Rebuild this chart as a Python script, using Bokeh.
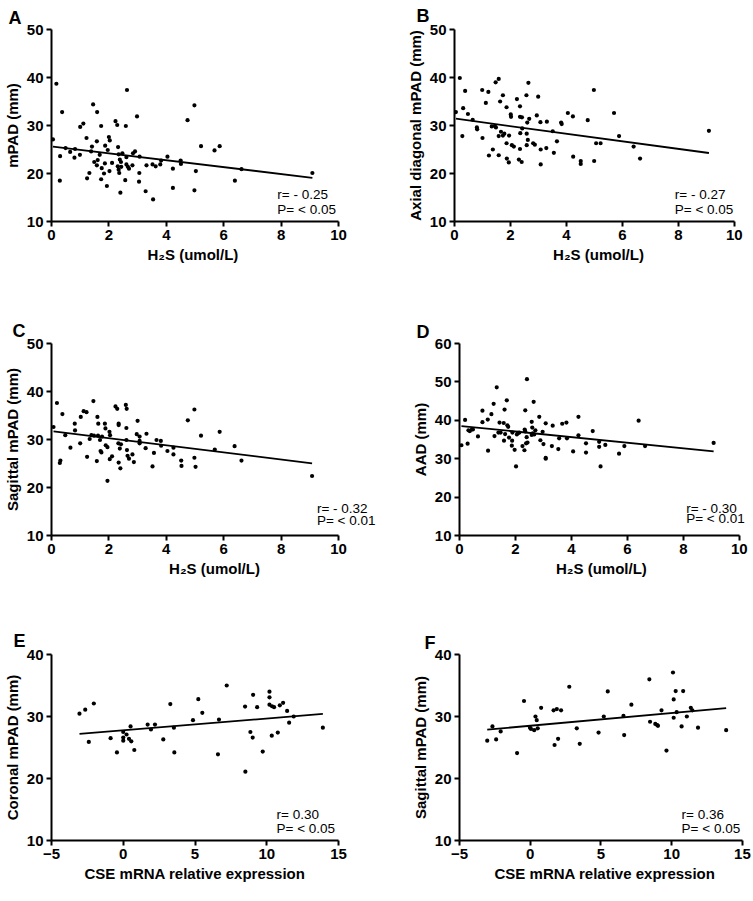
from bokeh.plotting import figure
from bokeh.layouts import column, row
from bokeh.models import Range1d, Label, FixedTicker
from bokeh.embed import file_html
from bokeh.resources import INLINE

FONT = "Liberation Sans"

# ---------------- data ----------------
a_x = [0.05, 0.17, 0.29, 0.30, 0.37, 0.49, 0.65, 0.80, 0.82, 0.99,
       1.00, 1.11, 1.22, 1.24, 1.32, 1.38, 1.41, 1.45, 1.49, 1.58,
       1.59, 1.58, 1.61, 1.68, 1.73, 1.73, 1.75, 1.83, 1.87, 1.86,
       1.93, 1.96, 2.00, 2.03, 2.02, 2.11, 2.23, 2.29, 2.32, 2.34,
       2.31, 2.34, 2.36, 2.38, 2.40, 2.42, 2.43, 2.47, 2.57, 2.59,
       2.61, 2.61, 2.63, 2.66, 2.70, 2.82, 2.84, 2.91, 2.98, 3.05,
       3.06, 3.07, 3.28, 3.31, 3.52, 3.54, 3.63, 3.79, 3.82, 4.04,
       4.23, 4.23, 4.50, 4.51, 4.74, 4.98, 4.98, 5.03, 5.21, 5.68,
       5.86, 6.39, 6.62, 9.09]
a_y = [27.1, 38.7, 18.5, 23.6, 32.8, 25.3, 24.5, 23.3, 25.1, 23.9,
       29.7, 30.4, 27.4, 19.0, 20.1, 24.6, 25.6, 34.4, 22.4, 26.7,
       32.8, 21.7, 22.8, 23.9, 29.9, 18.8, 21.1, 20.0, 25.8, 22.1,
       17.4, 24.9, 27.6, 26.9, 20.5, 22.2, 30.9, 30.1, 25.5, 24.0,
       21.5, 20.8, 20.1, 22.9, 16.0, 22.4, 21.4, 24.2, 18.6, 29.9,
       23.4, 21.9, 37.4, 21.4, 21.0, 21.7, 24.2, 24.6, 31.9, 18.3,
       20.1, 23.5, 16.3, 21.7, 21.9, 14.6, 21.5, 21.9, 22.7, 23.5,
       21.0, 17.0, 22.7, 22.0, 31.1, 34.2, 16.5, 20.5, 25.7, 24.8,
       25.7, 18.5, 20.9, 20.1]

b_x = [0.05, 0.19, 0.28, 0.31, 0.38, 0.48, 0.65, 0.80, 0.81, 0.99,
       1.00, 1.12, 1.21, 1.23, 1.33, 1.37, 1.44, 1.47, 1.48, 1.58,
       1.58, 1.58, 1.63, 1.66, 1.73, 1.73, 1.78, 1.86, 1.86, 1.87,
       1.94, 1.95, 2.01, 2.02, 2.05, 2.12, 2.23, 2.30, 2.34, 2.34,
       2.34, 2.35, 2.40, 2.41, 2.42, 2.57, 2.58, 2.58, 2.60, 2.62,
       2.64, 2.67, 2.81, 2.87, 2.94, 2.99, 3.07, 3.08, 3.08, 3.28,
       3.30, 3.51, 3.55, 3.66, 3.81, 3.83, 4.05, 4.23, 4.24, 4.51,
       4.51, 4.76, 4.98, 4.99, 5.06, 5.22, 5.70, 5.88, 6.40, 6.63, 9.09]
b_y = [32.8, 39.9, 27.8, 33.6, 37.2, 32.4, 31.2, 29.6, 29.2, 37.4,
       27.4, 34.7, 37.0, 23.75, 29.8, 25.0, 29.9, 39.0, 29.6, 39.7,
       23.8, 27.8, 35.0, 28.7, 36.3, 27.9, 28.3, 33.8, 26.3, 23.1,
       22.3, 27.9, 32.3, 31.8, 25.9, 25.6, 35.5, 22.9, 34.0, 31.8,
       25.1, 28.4, 22.4, 31.7, 29.4, 36.3, 28.3, 25.9, 30.6, 27.0,
       38.9, 31.4, 26.3, 26.0, 32.1, 36.0, 30.7, 25.0, 21.9, 25.3,
       30.8, 28.8, 24.3, 26.7, 30.6, 30.3, 32.6, 31.9, 23.5, 22.6,
       22.0, 31.1, 37.4, 22.6, 26.3, 26.3, 32.6, 27.8, 25.6, 23.1, 28.9]

c_x = [0.07, 0.19, 0.29, 0.31, 0.38, 0.48, 0.66, 0.81, 0.82, 1.00,
       1.02, 1.12, 1.22, 1.24, 1.33, 1.39, 1.46, 1.48, 1.58, 1.60,
       1.63, 1.62, 1.69, 1.71, 1.74, 1.76, 1.86, 1.88, 1.89, 1.95,
       1.95, 2.02, 2.03, 2.04, 2.11, 2.23, 2.29, 2.34, 2.33, 2.34,
       2.34, 2.38, 2.40, 2.42, 2.59, 2.61, 2.62, 2.61, 2.63, 2.65,
       2.70, 2.82, 2.87, 2.97, 3.00, 3.07, 3.07, 3.07, 3.28, 3.31,
       3.52, 3.57, 3.66, 3.81, 3.82, 4.04, 4.25, 4.25, 4.52, 4.53,
       4.75, 4.98, 4.98, 5.02, 5.21, 5.69, 5.86, 6.38, 6.62, 9.08]
c_y = [32.6, 37.6, 25.1, 25.6, 35.3, 30.9, 28.3, 33.3, 31.9, 29.2,
       34.7, 35.9, 35.7, 26.4, 30.1, 30.9, 38.0, 30.8, 25.5, 34.7,
       33.3, 30.8, 29.9, 27.6, 27.3, 30.6, 33.3, 32.3, 28.8, 28.4,
       21.4, 31.6, 25.9, 30.9, 26.5, 36.9, 36.4, 33.3, 29.2, 25.2,
       33.0, 28.1, 24.0, 29.0, 37.2, 32.4, 36.4, 29.9, 27.8, 26.6,
       26.0, 26.9, 25.3, 31.1, 33.9, 30.6, 29.2, 29.7, 28.2, 31.2,
       24.4, 27.2, 29.9, 29.7, 28.7, 27.6, 26.9, 28.3, 25.6, 24.5,
       34.0, 36.25, 26.2, 24.3, 30.8, 27.9, 31.6, 28.6, 25.6, 22.4]

d_x = [0.07, 0.20, 0.29, 0.32, 0.37, 0.44, 0.48, 0.66, 0.82, 0.82,
       1.01, 1.02, 1.14, 1.22, 1.25, 1.33, 1.39, 1.43, 1.47, 1.58,
       1.59, 1.61, 1.63, 1.69, 1.71, 1.74, 1.77, 1.87, 1.88, 1.89,
       1.97, 2.02, 2.05, 2.09, 2.14, 2.25, 2.32, 2.33, 2.35, 2.35,
       2.38, 2.40, 2.41, 2.43, 2.58, 2.58, 2.60, 2.62, 2.65, 2.67,
       2.71, 2.85, 2.89, 2.97, 3.00, 3.08, 3.08, 3.08, 3.30, 3.33,
       3.53, 3.56, 3.67, 3.82, 3.84, 4.06, 4.25, 4.25, 4.52, 4.52,
       4.76, 4.99, 4.99, 5.04, 5.21, 5.70, 5.89, 6.40, 6.63, 9.08]
d_y = [33.5, 40.1, 33.9, 37.4, 37.2, 37.6, 37.6, 35.8, 42.5, 39.5,
       40.2, 32.1, 41.6, 44.3, 35.9, 48.6, 36.8, 39.4, 36.8, 39.3,
       34.7, 42.8, 36.4, 45.2, 38.7, 38.3, 35.5, 33.4, 34.7, 36.8,
       32.3, 28.0, 36.3, 36.7, 36.8, 33.3, 32.2, 37.6, 42.6, 37.1,
       34.0, 35.6, 50.7, 34.2, 36.2, 39.6, 38.1, 36.6, 44.8, 36.3,
       37.4, 40.9, 34.8, 37.0, 33.8, 39.2, 30.2, 30.0, 33.3, 38.6,
       32.5, 35.3, 39.1, 39.4, 35.3, 31.9, 40.9, 36.1, 34.0, 31.6,
       37.2, 34.4, 33.1, 28.0, 33.6, 31.3, 33.3, 39.9, 33.3, 34.1]

e_x = [-3.05, -2.65, -2.40, -2.05, -0.88, -0.44, 0.0, 0.0, 0.0, 0.23,
       0.40, 0.51, 0.56, 0.77, 1.70, 1.93, 2.21, 2.79, 3.28, 3.53,
       3.56, 4.86, 5.23, 5.51, 6.60, 6.67, 7.21, 8.49, 8.51, 8.86,
       9.05, 9.02, 9.33, 9.72, 10.19, 10.19, 10.19, 10.37, 10.35, 10.51,
       10.77, 10.91, 11.14, 11.42, 11.56, 11.88, 13.91]
e_y = [30.45, 31.1, 25.9, 32.1, 26.5, 24.2, 27.5, 26.6, 26.1, 27.1,
       26.4, 28.4, 26.0, 24.6, 28.7, 27.9, 28.7, 26.3, 32.0, 28.2,
       24.2, 29.4, 32.8, 30.6, 23.9, 29.5, 35.0, 31.6, 21.1, 27.5,
       33.5, 26.6, 31.5, 24.35, 34.0, 33.1, 31.9, 31.65, 26.9, 31.5,
       27.4, 31.8, 32.2, 30.9, 29.0, 30.0, 28.2]

f_x = [-3.04, -2.67, -2.41, -2.09, -0.93, -0.44, -0.02, 0.05, 0.28, 0.37,
       0.46, 0.53, 0.77, 1.65, 1.72, 1.88, 1.97, 2.18, 2.76, 3.29,
       3.50, 4.83, 5.20, 5.48, 6.59, 6.64, 7.15, 8.42, 8.47, 8.84,
       8.98, 9.03, 9.28, 9.63, 10.09, 10.14, 10.14, 10.28, 10.35, 10.70,
       10.81, 11.07, 11.35, 11.46, 11.86, 13.85]
f_y = [26.1, 28.4, 26.3, 27.6, 24.1, 32.5, 28.2, 28.0, 27.8, 30.0,
       29.4, 28.1, 31.4, 31.0, 25.4, 31.2, 26.4, 31.0, 34.8, 28.1,
       25.6, 27.4, 30.0, 34.05, 30.1, 27.0, 31.9, 36.0, 29.15, 28.8,
       28.6, 28.5, 31.0, 24.5, 37.1, 32.75, 29.8, 34.1, 30.7, 28.4,
       34.1, 30.0, 31.4, 31.0, 28.2, 27.8]

# fitted lines (intercept, slope)
fit_a = (25.65, -0.72)
fit_b = (31.45, -0.79)
fit_c = (31.75, -0.74)
fit_d = (38.55, -0.73)
fit_e = (27.77, 0.19)
fit_f = (28.51, 0.204)

stats_a = ("r= - 0.25", "P= < 0.05")
stats_b = ("r= - 0.27", "P= < 0.05")
stats_c = ("r= - 0.32", "P= < 0.01")
stats_d = ("r= - 0.30", "P= < 0.01")
stats_e = ("r= 0.30", "P= < 0.05")
stats_f = ("r= 0.36", "P= < 0.05")

h2s_ticks = [0, 2, 4, 6, 8, 10]
cse_ticks = [-5, 0, 5, 10, 15]
y_ticks_50 = [10, 20, 30, 40, 50]
y_ticks_60 = [10, 20, 30, 40, 50, 60]
y_ticks_40 = [10, 20, 30, 40]


def panel(x, y, fit, stats, xr, xbounds, yr, xticks, yticks, xlabel, ylabel,
          letter, fw, fh, bl, br, bt, bb, letter_dx, letter_standoff,
          ann_x, ann_r_y, ann_p_y):
    p = figure(frame_width=fw, frame_height=fh, output_backend="svg",
               toolbar_location=None, x_range=Range1d(*xr), y_range=Range1d(*yr),
               min_border_left=bl, min_border_right=br,
               min_border_top=bt, min_border_bottom=bb, title=letter)
    p.outline_line_color = None
    p.xgrid.grid_line_color = None
    p.ygrid.grid_line_color = None
    p.background_fill_color = "white"
    p.border_fill_color = "white"

    p.title.align = "left"
    p.title.offset = letter_dx
    p.title.standoff = letter_standoff
    p.title.text_font = FONT
    p.title.text_font_size = "18px"
    p.title.text_font_style = "bold"
    p.title.text_color = "black"

    for ax in (p.xaxis[0], p.yaxis[0]):
        ax.axis_line_width = 2
        ax.axis_line_color = "black"
        ax.major_tick_line_width = 2
        ax.major_tick_line_color = "black"
        ax.major_tick_in = 0
        ax.major_tick_out = 5
        ax.minor_tick_line_color = None
        ax.major_label_text_font = FONT
        ax.major_label_text_font_style = "bold"
        ax.major_label_text_font_size = "15px"
        ax.major_label_text_color = "black"
        ax.axis_label_text_font = FONT
        ax.axis_label_text_font_style = "bold"
        ax.axis_label_text_font_size = "15px"
        ax.axis_label_text_color = "black"
        ax.major_label_standoff = 3
        ax.axis_label_standoff = 3
    p.xaxis.ticker = FixedTicker(ticks=xticks)
    p.yaxis.ticker = FixedTicker(ticks=yticks)
    p.xaxis.bounds = xbounds
    p.xaxis.axis_label = xlabel
    p.yaxis.axis_label = ylabel

    p.scatter(x, y, size=4.2, fill_color="black", line_color=None)

    b0, b1 = fit
    lx = [min(x), max(x)]
    ly = [b0 + b1 * v for v in lx]
    p.line(lx, ly, line_width=1.8, line_color="black")

    for txt, yy in ((stats[0], ann_r_y), (stats[1], ann_p_y)):
        p.add_layout(Label(x=ann_x, y=yy, text=txt, text_font=FONT,
                           text_font_size="13.5px", text_color="black",
                           text_baseline="middle", text_align="left"))
    return p


pa = panel(a_x, a_y, fit_a, stats_a, (0, 10), (0, 10), (10, 50), h2s_ticks, y_ticks_50,
           "H\u2082S  (umol/L)", "mPAD (mm)", "A",
           287, 192, 43, 34, 25, 58, -43, 4, 7.87, 15.7, 12.6)
pb = panel(b_x, b_y, fit_b, stats_b, (0, 10.29), (0, 10), (10, 50), h2s_ticks, y_ticks_50,
           "H\u2082S (umol/L)", "Axial diagonal mPAD (mm)", "B",
           288, 192, 82, 1, 25, 58, -38, 7, 7.87, 15.7, 12.5)
pc = panel(c_x, c_y, fit_c, stats_c, (0, 11.36), (0, 10), (10, 50), h2s_ticks, y_ticks_50,
           "H\u2082S (umol/L)", "Sagittal mPAD (mm)", "C",
           326, 192, 38, 0, 60, 56, -39, 5, 9.25, 15.7, 13.1)
pd = panel(d_x, d_y, fit_d, stats_d, (0, 10.29), (0, 10), (10, 60), h2s_ticks, y_ticks_60,
           "H\u2082S  (umol/L)", "AAD (mm)", "D",
           288, 192, 82, 1, 64, 52, -43, 4, 8.1, 17.1, 14.4)
pe = panel(e_x, e_y, fit_e, stats_e, (-5, 15), (-5, 15), (10, 40), cse_ticks, y_ticks_40,
           "CSE mRNA relative expression", "Coronal mPAD (mm)", "E",
           287, 186, 35, 42, 67, 45, -38, 8, 10.68, 14.2, 12.0)
pf = panel(f_x, f_y, fit_f, stats_f, (-5, 15.57), (-5, 15), (10, 40), cse_ticks, y_ticks_40,
           "CSE mRNA relative expression", "Sagittal mPAD (mm)", "F",
           291, 186, 79, 1, 67, 45, -35, 4, 10.7, 14.2, 12.0)

layout = column(row(pa, pb), row(pc, pd), row(pe, pf))

with open("out.html", "w") as fh:
    fh.write(file_html(layout, INLINE))
